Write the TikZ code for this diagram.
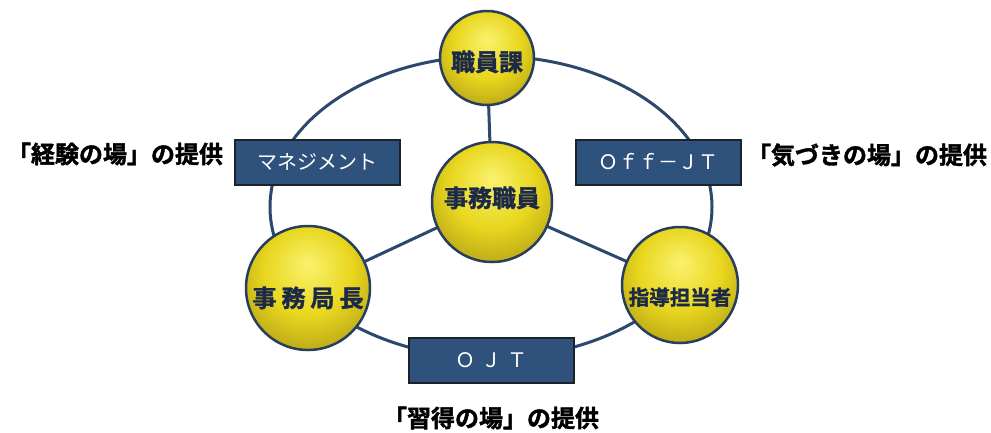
\documentclass[tikz,border=0pt]{standalone}
\usepackage{fontspec}
\newfontfamily\cjk{Noto Sans CJK JP}
\newfontfamily\cjkh{Noto Sans CJK JP}[UprightFont={* Bold}, FakeBold=1.6]
\usetikzlibrary{backgrounds}
\definecolor{ringc}{RGB}{44,72,108}
\definecolor{boxfill}{RGB}{47,82,124}
\definecolor{boxline}{RGB}{28,34,44}
\definecolor{discline}{RGB}{40,62,92}
\definecolor{disctext}{RGB}{28,42,72}
\definecolor{yl}{RGB}{250,242,110}
\definecolor{ym}{RGB}{232,214,30}
\definecolor{yd}{RGB}{150,132,20}
\pgfdeclareradialshading{ballyellow}{\pgfpoint{0bp}{10bp}}{color(0bp)=(yl); color(18bp)=(ym); color(42bp)=(yd); color(60bp)=(yd)}
\newcommand{\dtext}[2]{\raisebox{#1}[0pt][0pt]{#2}}
\tikzset{
  ringline/.style={draw=ringc, line width=3pt},
  disc/.style={circle, draw=discline, line width=2.5pt, shading=ballyellow, inner sep=0pt, text=disctext, font=\cjkh\fontsize{24}{24}\selectfont},
  labelbox/.style={rectangle, draw=boxline, line width=2pt, fill=boxfill, text=white, minimum width=165pt, minimum height=45pt, inner sep=0pt, font=\cjk\fontsize{20}{20}\selectfont},
  caption/.style={text=black, font=\cjkh\fontsize{24}{24}\selectfont, inner sep=0pt}
}
\begin{document}
\begin{tikzpicture}[x=1pt,y=-1pt]
\useasboundingbox (0,0) rectangle (991,432);
% label boxes
\node[labelbox] (mgmt) at (317,162) {マネジメント};
\node[labelbox] (offjt) at (658,162) {Ｏｆｆ－ＪＴ};
\node[labelbox] (ojt) at (491,360) {Ｏ\hspace{6pt}Ｊ\hspace{6pt}Ｔ};
% discs
\node[disc, minimum size=94pt] (kaka) at (487,58) {\dtext{-13pt}{職員課}};
\node[disc, minimum size=120pt] (staff) at (492,202) {\dtext{-5pt}{事務職員}};
\node[disc, minimum size=124pt] (chief) at (308,288) {\dtext{-19pt}{事\hspace{5pt}務\hspace{5pt}局\hspace{5pt}長}};
\node[disc, minimum size=116pt, font=\cjkh\fontsize{20.5}{20.5}\selectfont] (leader) at (680,285) {\dtext{-20pt}{指導担当者}};
% captions
\node[caption] (c1) at (115,154) {「経験の場」の提供};
\node[caption] (c2) at (867,155) {「気づきの場」の提供};
\node[caption] (c3) at (491,418) {「習得の場」の提供};
% ring and spokes
\begin{scope}[on background layer]
\fill[white] (0,0) rectangle (991,432);
\draw[ringline] (491,207) ellipse [x radius=221, y radius=151];
\draw[ringline] (staff.center) -- (kaka.center);
\draw[ringline] (staff.center) -- (chief.center);
\draw[ringline] (staff.center) -- (leader.center);
\end{scope}
\end{tikzpicture}
\end{document}
